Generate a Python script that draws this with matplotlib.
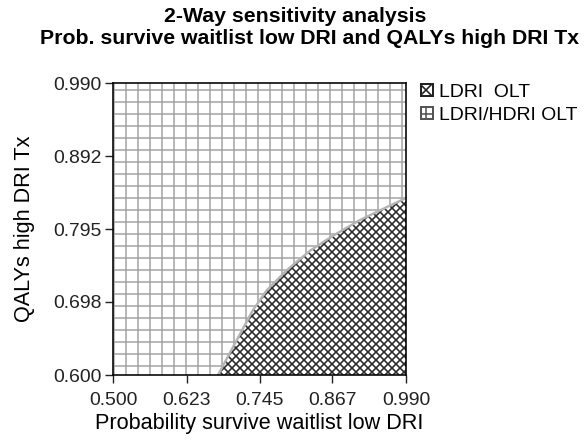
import matplotlib
matplotlib.use("Agg")
import matplotlib.pyplot as plt
from matplotlib.patches import Patch

plt.rcParams['font.family'] = ['Liberation Sans', 'DejaVu Sans']
plt.rcParams['hatch.linewidth'] = 0.8

# threshold curve between the two strategies
prob_survive = [0.6756, 0.7007, 0.7341, 0.7575, 0.7910, 0.8294, 0.8679, 0.9131, 0.9582, 0.990]
qaly_high = [0.600, 0.6374, 0.6868, 0.7135, 0.7402, 0.7660, 0.7860, 0.8070, 0.8244, 0.8364]

x_ticks = [0.500, 0.623, 0.745, 0.867, 0.990]
y_ticks = [0.600, 0.698, 0.795, 0.892, 0.990]
legend_labels = ["LDRI  OLT", "LDRI/HDRI OLT"]

fig = plt.figure(figsize=(585 / 144, 444 / 144), dpi=144)
ax = fig.add_axes([113 / 585, 69 / 444, 293 / 585, 292 / 444])

# background region: LDRI/HDRI OLT (grid)
ax.fill_between([0.5, 0.99], 0.6, 0.99, facecolor="white", edgecolor="#a8a8a8",
                hatch="++", linewidth=0, zorder=1)
# LDRI OLT region (crosshatch)
ax.fill_between(prob_survive, 0.6, qaly_high, facecolor="white", edgecolor="#2a2a2a",
                hatch="xxxxxx", linewidth=0, zorder=2)
ax.plot(prob_survive, qaly_high, color="#b4b4b4", linewidth=1.2, zorder=3)

ax.set_xlim(0.5, 0.99)
ax.set_ylim(0.6, 0.99)
ax.set_xticks(x_ticks)
ax.set_xticklabels(["%.3f" % v for v in x_ticks])
ax.set_yticks(y_ticks)
ax.set_yticklabels(["%.3f" % v for v in y_ticks])
ax.tick_params(direction="out", length=4, width=0.7, labelsize=9.7, colors="#222222")
ax.tick_params(axis="x", pad=4.5)
ax.tick_params(axis="y", pad=1.5)
for s in ax.spines.values():
    s.set_linewidth(0.8)
    s.set_zorder(4)

ax.set_xlabel("Probability survive waitlist low DRI", fontsize=10.8, labelpad=2)
ax.set_ylabel("QALYs high DRI Tx", fontsize=10.8, labelpad=9)

fig.text(295 / 585, 1 - 17 / 444, "2-Way sensitivity analysis", ha="center", va="center",
         fontsize=10.6, fontweight="bold")
fig.text(310 / 585, 1 - 39 / 444, "Prob. survive waitlist low DRI and QALYs high DRI Tx",
         ha="center", va="center", fontsize=10.6, fontweight="bold")

handles = [Patch(facecolor="white", edgecolor="#222222", hatch="xxxx"),
           Patch(facecolor="white", edgecolor="#555555", hatch="++")]
fig.legend(handles, legend_labels, loc="upper left", bbox_to_anchor=(421 / 585, 1 - 84 / 444),
           frameon=False, fontsize=9.7, handlelength=0.6, handleheight=0.6,
           handletextpad=0.35, labelspacing=0.3, borderaxespad=0, borderpad=0)

fig.savefig("out.png", dpi=144)
